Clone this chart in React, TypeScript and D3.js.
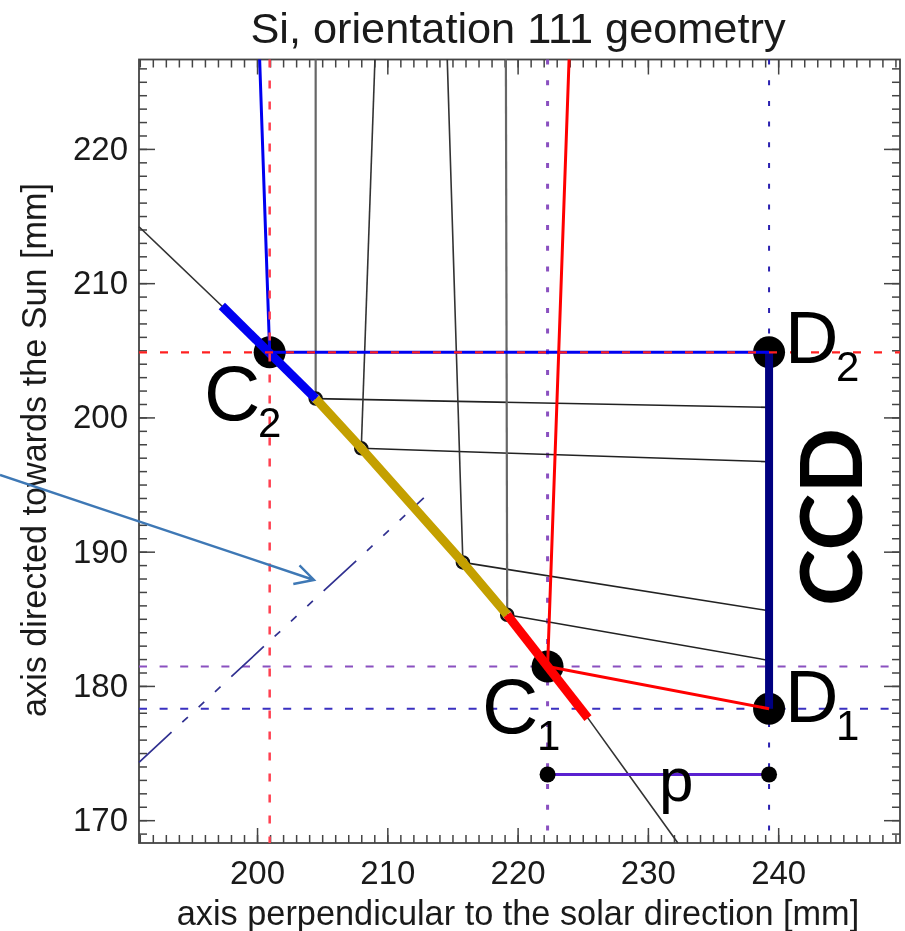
import React, { useEffect, useRef } from "react";
import * as d3 from "d3";

type P = [number, number];

const xDomain: P = [190.94, 249.35];
const yDomain: P = [168.3, 226.66];
const xTicks = [200, 210, 220, 230, 240];
const yTicks = [170, 180, 190, 200, 210, 220];
const titleText = "Si, orientation 111 geometry";
const xLabel = "axis perpendicular to the solar direction [mm]";
const yLabel = "axis directed towards the Sun [mm]";

const c1: P = [222.3, 181.45];
const c2: P = [200.97, 204.85];
const d1: P = [239.3, 178.3];
const d2: P = [239.3, 204.85];
const pY = 173.4;

const crystalLine: P[] = [[190.94, 214.2], [197.3, 208.3], [204.5, 201.4], [208.0, 197.7], [215.8, 189.2], [219.2, 185.3], [225.4, 177.6], [232.3, 168.3]];
const crystalBlue: P[] = [[197.3, 208.3], [204.5, 201.4]];
const crystalGold: P[] = [[204.5, 201.4], [208.0, 197.7], [215.8, 189.2], [219.2, 185.3]];
const crystalRed: P[] = [[219.2, 185.3], [225.4, 177.6]];
const perpLine: P[] = [[190.94, 174.3], [212.8, 194.0]];

const blueRay: P[] = [[200.2, 226.66], c2, d2];
const redRay: P[] = [[223.95, 226.66], c1, d1];
const smallPts: P[] = [[204.5, 201.4], [208.0, 197.7], [215.8, 189.2], [219.2, 185.3]];
const rayTopX = [204.5, 209.05, 214.6, 219.1];
const rayEndY = [200.75, 196.7, 185.6, 181.9];
const greyRays = [true, false, false, true];

const W = 905, H = 931;
const L = 139, R = 900, T = 59.5, B = 843;

const x = d3.scaleLinear().domain(xDomain).range([L, R]);
const y = d3.scaleLinear().domain(yDomain).range([B, T]);
const line = d3.line<P>().x((d) => x(d[0])).y((d) => y(d[1]));

const AXIS = "#444";

export default function App() {
  const axes = useRef<SVGGElement>(null);
  useEffect(() => {
    const g = d3.select(axes.current!);
    g.selectAll("*").remove();
    const xMinor = d3.range(191, 250);
    const yMinor = d3.range(169, 227);
    const tickFont = (s: any) =>
      s.attr("font-family", "'Liberation Sans'").attr("font-size", 33).attr("fill", "#1a1a1a");
    const finish = (s: any) => {
      s.select(".domain").remove();
      s.selectAll("line").attr("stroke", AXIS).attr("stroke-width", 1.5);
    };
    g.append("g").attr("transform", `translate(0,${B})`)
      .call(d3.axisBottom(x).tickValues(xMinor).tickSize(-8).tickFormat(() => "") as any).call(finish);
    g.append("g").attr("transform", `translate(0,${T})`)
      .call(d3.axisTop(x).tickValues(xMinor).tickSize(-8).tickFormat(() => "") as any).call(finish);
    g.append("g").attr("transform", `translate(${L},0)`)
      .call(d3.axisLeft(y).tickValues(yMinor).tickSize(-8).tickFormat(() => "") as any).call(finish);
    g.append("g").attr("transform", `translate(${R},0)`)
      .call(d3.axisRight(y).tickValues(yMinor).tickSize(-8).tickFormat(() => "") as any).call(finish);
    g.append("g").attr("transform", `translate(0,${B})`)
      .call(d3.axisBottom(x).tickValues(xTicks).tickSize(-15).tickPadding(18).tickFormat(d3.format("d") as any) as any)
      .call(finish).call((s: any) => tickFont(s.selectAll("text")));
    g.append("g").attr("transform", `translate(0,${T})`)
      .call(d3.axisTop(x).tickValues(xTicks).tickSize(-15).tickFormat(() => "") as any).call(finish);
    g.append("g").attr("transform", `translate(${L},0)`)
      .call(d3.axisLeft(y).tickValues(yTicks).tickSize(-16).tickPadding(11).tickFormat(d3.format("d") as any) as any)
      .call(finish).call((s: any) => tickFont(s.selectAll("text")));
    g.append("g").attr("transform", `translate(${R},0)`)
      .call(d3.axisRight(y).tickValues(yTicks).tickSize(-16).tickFormat(() => "") as any).call(finish);
    g.append("rect").attr("x", L).attr("y", T).attr("width", R - L).attr("height", B - T)
      .attr("fill", "none").attr("stroke", AXIS).attr("stroke-width", 1.8);
  }, []);

  const vDash = (px: number, c: string, w: number, dash: string) => (
    <line x1={x(px)} x2={x(px)} y1={T} y2={B} stroke={c} strokeWidth={w} strokeDasharray={dash} />
  );
  const hDash = (py: number, c: string, w: number, dash: string) => (
    <line x1={L} x2={R} y1={y(py)} y2={y(py)} stroke={c} strokeWidth={w} strokeDasharray={dash} />
  );

  return (
    <svg width={W} height={H} viewBox={`0 0 ${W} ${H}`}
      style={{ position: "fixed", left: 0, top: 0, display: "block", background: "#fff", filter: "blur(0.5px)" }}>
      <text x={518} y={43} textAnchor="middle" fontFamily="'Liberation Sans'" fontSize={43.3} fill="#1a1a1a">{titleText}</text>
      <text x={518} y={925} textAnchor="middle" fontFamily="'Liberation Sans'" fontSize={34.3} fill="#1a1a1a">{xLabel}</text>
      <text transform={`translate(46,450) rotate(-90)`} textAnchor="middle" fontFamily="'Liberation Sans'" fontSize={34.2} fill="#1a1a1a">{yLabel}</text>

      <g ref={axes} />

      {hDash(c1[1], "#8a50c0", 2, "8 12.6")}
      {hDash(d1[1], "#3a30c0", 2, "8 12.6")}
      {vDash(c1[0], "#8a50c0", 3, "5 15.7")}
      {vDash(d1[0], "#2a20b0", 2, "5 15.7")}

      {rayTopX.map((px, i) => (
        <g key={i}>
          <path d={line([[px, yDomain[1]], smallPts[i]])!} fill="none"
            stroke={greyRays[i] ? "#666" : "#333"} strokeWidth={greyRays[i] ? 2.2 : 1.6} />
          <path d={line([smallPts[i], [d1[0], rayEndY[i]]])!} fill="none" stroke="#222" strokeWidth={1.6} />
        </g>
      ))}
      <path d={line(crystalLine)!} fill="none" stroke="#333" strokeWidth={1.6} />
      <path d={line(perpLine)!} fill="none" stroke="#303090" strokeWidth={1.7} strokeDasharray="44.4 14.7 7.6 14.7 7.6 14.7 7.6 14.7" />

      {smallPts.map((p, i) => (
        <circle key={i} cx={x(p[0])} cy={y(p[1])} r={6} fill="none" stroke="#111" strokeWidth={2.5} />
      ))}
      {[c1, c2, d1, d2].map((p, i) => (
        <circle key={i} cx={x(p[0])} cy={y(p[1])} r={16} fill="#000" />
      ))}

      <path d={line([[c1[0], pY], [d1[0], pY]])!} fill="none" stroke="#5a20d0" strokeWidth={3} />
      {[c1[0], d1[0]].map((px, i) => (
        <circle key={i} cx={x(px)} cy={y(pY)} r={8} fill="#000" />
      ))}

      <path d={line([d1, d2])!} fill="none" stroke="#000080" strokeWidth={8} />
      <path d={line(crystalGold)!} fill="none" stroke="#c4a000" strokeWidth={9} />
      <path d={line(crystalBlue)!} fill="none" stroke="#0000f0" strokeWidth={9} />
      <path d={line(crystalRed)!} fill="none" stroke="#ff0000" strokeWidth={9} />
      <path d={line(blueRay)!} fill="none" stroke="#0000f0" strokeWidth={3} />
      <path d={line(redRay)!} fill="none" stroke="#ff0000" strokeWidth={3} />

      {hDash(c2[1], "#ff2020", 2.2, "8 13")}
      {vDash(c2[0], "#ff4050", 2.5, "8 13")}

      <g fontFamily="'Liberation Sans'" fill="#000">
        <text x={204} y={420} fontSize={78}>C</text>
        <text x={258} y={437} fontSize={42}>2</text>
        <text x={482} y={733} fontSize={78}>C</text>
        <text x={537} y={750} fontSize={42}>1</text>
        <text x={785} y={363} fontSize={74}>D</text>
        <text x={836} y={381} fontSize={42}>2</text>
        <text x={785} y={722} fontSize={74}>D</text>
        <text x={836} y={740} fontSize={42}>1</text>
        <text x={659} y={801} fontSize={62}>p</text>
      </g>
      <text transform="translate(862,606) rotate(-90)" fontFamily="Lato" fontWeight={700} fontSize={86} fill="#000">CCD</text>

      <path d="M0,475 L314,580 M299.5,565.3 L314,580 L293.3,584" fill="none" stroke="#3e78b5" strokeWidth={2.4} />
    </svg>
  );
}
